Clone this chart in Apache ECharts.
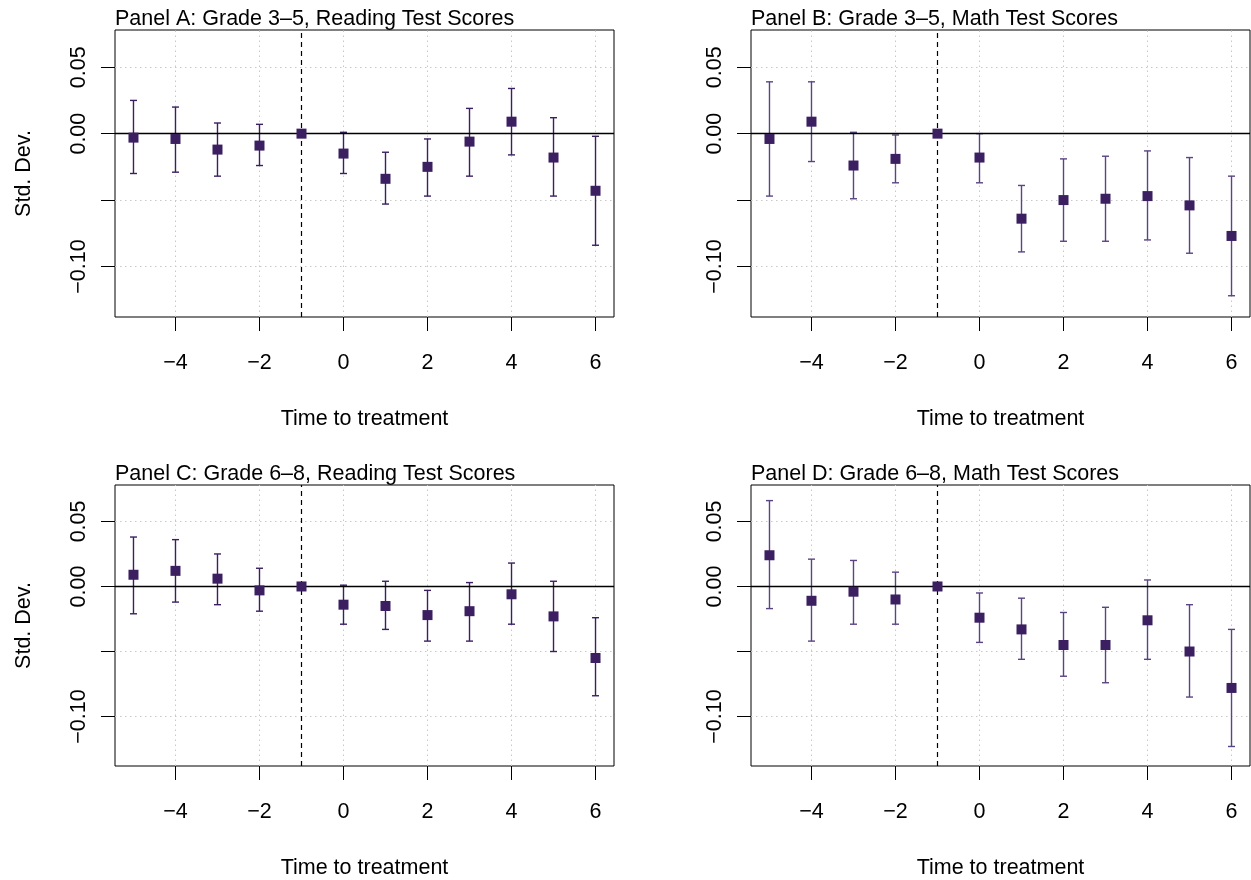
<!DOCTYPE html>
<html>
<head>
<meta charset="utf-8">
<title>Event study estimates</title>
<script src="https://cdn.jsdelivr.net/npm/echarts@6/dist/echarts.min.js"></script>
<style>
  html, body { margin: 0; padding: 0; background: #fff; }
  #chart { width: 1251px; height: 880px; }
</style>
</head>
<body>
<div id="chart"></div>
<script>
// Event time relative to treatment (period -1 is the omitted reference)
const times = [-5, -4, -3, -2, -1, 0, 1, 2, 3, 4, 5, 6];

const panelTitles = [
  'Panel A: Grade 3\u20135, Reading Test Scores',
  'Panel B: Grade 3\u20135, Math Test Scores',
  'Panel C: Grade 6\u20138, Reading Test Scores',
  'Panel D: Grade 6\u20138, Math Test Scores'
];

// Point estimates and 95% confidence bounds (std. dev. units)
const estA = [-0.003, -0.004, -0.012, -0.009, 0, -0.015, -0.034, -0.025, -0.006, 0.009, -0.018, -0.043];
const lowA = [-0.030, -0.029, -0.032, -0.024, null, -0.030, -0.053, -0.047, -0.032, -0.016, -0.047, -0.084];
const highA = [0.025, 0.020, 0.008, 0.007, null, 0.001, -0.014, -0.004, 0.019, 0.034, 0.012, -0.002];

const estB = [-0.004, 0.009, -0.024, -0.019, 0, -0.018, -0.064, -0.050, -0.049, -0.047, -0.054, -0.077];
const lowB = [-0.047, -0.021, -0.049, -0.037, null, -0.037, -0.089, -0.081, -0.081, -0.080, -0.090, -0.122];
const highB = [0.039, 0.039, 0.001, -0.001, null, 0.000, -0.039, -0.019, -0.017, -0.013, -0.018, -0.032];

const estC = [0.009, 0.012, 0.006, -0.003, 0, -0.014, -0.015, -0.022, -0.019, -0.006, -0.023, -0.055];
const lowC = [-0.021, -0.012, -0.014, -0.019, null, -0.029, -0.033, -0.042, -0.042, -0.029, -0.050, -0.084];
const highC = [0.038, 0.036, 0.025, 0.014, null, 0.001, 0.004, -0.003, 0.003, 0.018, 0.004, -0.024];

const estD = [0.024, -0.011, -0.004, -0.010, 0, -0.024, -0.033, -0.045, -0.045, -0.026, -0.050, -0.078];
const lowD = [-0.017, -0.042, -0.029, -0.029, null, -0.043, -0.056, -0.069, -0.074, -0.056, -0.085, -0.123];
const highD = [0.066, 0.021, 0.020, 0.011, null, -0.005, -0.009, -0.020, -0.016, 0.005, -0.014, -0.033];

// Axis ticks and labels
const xTicks = [-4, -2, 0, 2, 4, 6];
const yTicks = [-0.10, -0.05, 0, 0.05];
const yLabelTicks = [-0.10, 0, 0.05];
const referencePeriod = -1;

const panels = [
  { est: estA, low: lowA, high: highA },
  { est: estB, low: lowB, high: highB },
  { est: estC, low: lowC, high: highC },
  { est: estD, low: lowD, high: highD }
];

// ---- layout / style ----
const FONT = '"Liberation Sans", Arial, Helvetica, sans-serif';
const FS = 21.5;
const gridPos = [
  { left: 115, top: 30 },
  { left: 751, top: 30 },
  { left: 115, top: 485 },
  { left: 751, top: 485 }
];
const GW = 499, GH = 287;
const pointColor = '#3b1f61';
const barColors = ['#3b1f61', '#5a4483', '#3b1f61', '#5a4483'];

const minus = s => String(s).replace('-', '\u2212');

const option = {
  animation: false,
  backgroundColor: '#ffffff',
  textStyle: { fontFamily: FONT },
  title: [],
  grid: [],
  xAxis: [],
  yAxis: [],
  series: []
};

panels.forEach((p, i) => {
  const g = gridPos[i];
  option.title.push({
    text: panelTitles[i],
    left: g.left,
    top: g.top - 22,
    padding: 0,
    textStyle: { fontFamily: FONT, fontSize: FS, fontWeight: 'normal', color: '#000' }
  });
  option.grid.push({
    left: g.left, top: g.top, width: GW, height: GH,
    show: true, borderColor: '#000', borderWidth: 1, backgroundColor: 'transparent'
  });
  option.xAxis.push({
    type: 'value', gridIndex: i, min: -5.44, max: 6.44, position: 'bottom',
    name: 'Time to treatment', nameLocation: 'middle', nameGap: 91,
    nameTextStyle: { fontFamily: FONT, fontSize: FS, color: '#000' },
    axisLine: { show: false, onZero: false },
    axisTick: { show: true, inside: false, length: 14, customValues: xTicks,
                lineStyle: { color: '#000', width: 1 } },
    axisLabel: { show: true, customValues: xTicks, margin: 35,
                 fontFamily: FONT, fontSize: FS, color: '#000',
                 formatter: v => minus(v) },
    splitLine: { show: false }
  });
  const yAx = {
    type: 'value', gridIndex: i, min: -0.138, max: 0.078, position: 'left',
    axisLine: { show: false, onZero: false },
    axisTick: { show: true, inside: false, length: 14, customValues: yTicks,
                lineStyle: { color: '#000', width: 1 } },
    axisLabel: { show: true, customValues: yLabelTicks, rotate: 90, margin: 25,
                 fontFamily: FONT, fontSize: FS, color: '#000',
                 formatter: v => minus(Number(v).toFixed(2)) },
    splitLine: { show: false }
  };
  if (i % 2 === 0) {
    yAx.name = 'Std. Dev.';
    yAx.nameLocation = 'middle';
    yAx.nameGap = 80;
    yAx.nameTextStyle = { fontFamily: FONT, fontSize: FS, color: '#000' };
  }
  option.yAxis.push(yAx);

  // dotted background grid at the tick positions
  option.series.push({
    type: 'line', xAxisIndex: i, yAxisIndex: i, data: [], z: 1, silent: true,
    markLine: {
      z: 1, silent: true, symbol: 'none', animation: false,
      label: { show: false },
      lineStyle: { type: [1.5, 3.5], color: '#c8c8c8', width: 1 },
      data: xTicks.map(v => ({ xAxis: v })).concat(yTicks.map(v => ({ yAxis: v })))
    }
  });

  // confidence intervals with end caps
  const ciData = [];
  times.forEach((t, k) => {
    if (p.low[k] !== null && p.high[k] !== null) ciData.push([t, p.low[k], p.high[k]]);
  });
  const barColor = barColors[i];
  option.series.push({
    type: 'custom', xAxisIndex: i, yAxisIndex: i, z: 3, silent: true,
    data: ciData,
    renderItem: (params, api) => {
      const lo = api.coord([api.value(0), api.value(1)]);
      const hi = api.coord([api.value(0), api.value(2)]);
      const cap = 3.5;
      const st = { stroke: barColor, lineWidth: 1.4 };
      return {
        type: 'group',
        children: [
          { type: 'line', shape: { x1: lo[0], y1: lo[1], x2: hi[0], y2: hi[1] }, style: st },
          { type: 'line', shape: { x1: lo[0] - cap, y1: lo[1], x2: lo[0] + cap, y2: lo[1] }, style: st },
          { type: 'line', shape: { x1: hi[0] - cap, y1: hi[1], x2: hi[0] + cap, y2: hi[1] }, style: st }
        ]
      };
    }
  });

  // zero line and treatment marker
  option.series.push({
    type: 'line', xAxisIndex: i, yAxisIndex: i, data: [], z: 4, silent: true,
    markLine: {
      z: 4, silent: true, symbol: 'none', animation: false,
      label: { show: false },
      data: [
        { yAxis: 0, lineStyle: { type: 'solid', color: '#000', width: 1.3 } },
        { xAxis: referencePeriod, lineStyle: { type: [5, 4], color: '#000', width: 1.2 } }
      ]
    }
  });

  // point estimates
  option.series.push({
    type: 'scatter', xAxisIndex: i, yAxisIndex: i, z: 5, silent: true,
    symbol: 'rect', symbolSize: 10,
    itemStyle: { color: pointColor, opacity: 1 },
    data: times.map((t, k) => [t, p.est[k]])
  });
});

const chart = echarts.init(document.getElementById('chart'), null, { renderer: 'canvas' });
chart.setOption(option);
</script>
</body>
</html>
